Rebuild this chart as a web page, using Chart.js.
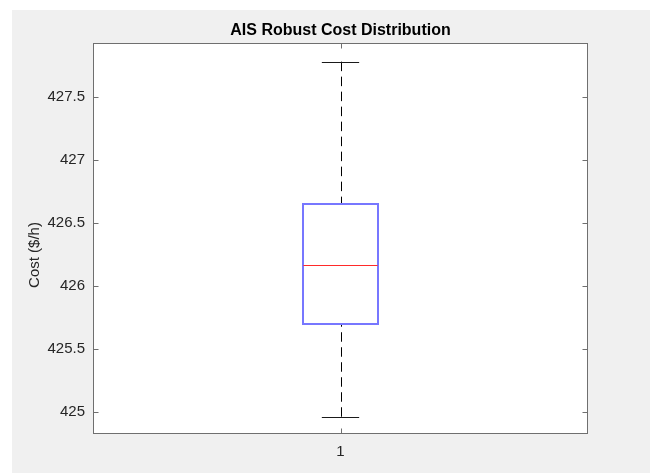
<!DOCTYPE html>
<html>
<head>
<meta charset="utf-8">
<script src="https://cdn.jsdelivr.net/npm/chart.js@4/dist/chart.umd.min.js"></script>
<style>
  html, body { margin: 0; padding: 0; background: #ffffff; }
  #wrap { width: 650px; height: 473px; position: relative; }
</style>
</head>
<body>
<div id="wrap"><canvas id="c" width="650" height="473"></canvas></div>
<script>
// Box plot summary of the AIS robust cost ($/h)
const categories   = ['1'];
const upperWhisker = [427.783];
const q3           = [426.651];
const median       = [426.167];
const q1           = [425.703];
const lowerWhisker = [424.965];
const yTicks       = [425, 425.5, 426, 426.5, 427, 427.5];

const Y_MIN = 424.828, Y_MAX = 427.931;
const BOX_HALF = 0.075;   // half box width in category units
const CAP_HALF = 0.0377;  // half whisker cap width

const FONT = '"Liberation Sans", Arial, Helvetica, sans-serif';
const AXIS_COLOR = '#6f6f6f';
const TEXT_COLOR = '#262626';

const boxPlotPlugin = {
  id: 'boxPlot',
  beforeDraw(chart) {
    const { ctx, chartArea: a } = chart;
    ctx.save();
    ctx.fillStyle = '#ffffff';
    ctx.fillRect(0, 0, chart.width, chart.height);
    ctx.fillStyle = '#f0f0f0';
    ctx.fillRect(12, 10, chart.width - 12, chart.height - 10);
    ctx.fillStyle = '#ffffff';
    ctx.fillRect(a.left, a.top, a.right - a.left, a.bottom - a.top);
    ctx.restore();
  },
  afterDraw(chart) {
    const { ctx, chartArea: a, scales } = chart;
    const xs = scales.x, ys = scales.y;
    ctx.save();

    categories.forEach((c, i) => {
      const cx = Math.round(xs.getPixelForValue(i + 1)) + 0.5;
      const bl = xs.getPixelForValue(i + 1 - BOX_HALF);
      const br = xs.getPixelForValue(i + 1 + BOX_HALF);
      const cl = xs.getPixelForValue(i + 1 - CAP_HALF);
      const cr = xs.getPixelForValue(i + 1 + CAP_HALF);
      const yUW = ys.getPixelForValue(upperWhisker[i]);
      const yQ3 = ys.getPixelForValue(q3[i]);
      const yMed = ys.getPixelForValue(median[i]);
      const yQ1 = ys.getPixelForValue(q1[i]);
      const yLW = ys.getPixelForValue(lowerWhisker[i]);

      // dashed whiskers
      ctx.strokeStyle = '#000000';
      ctx.lineWidth = 1;
      ctx.setLineDash([9.5, 5.5]);
      ctx.beginPath();
      ctx.moveTo(cx, yUW); ctx.lineTo(cx, yQ3);
      ctx.stroke();
      ctx.beginPath();
      ctx.moveTo(cx, yLW); ctx.lineTo(cx, yQ1);
      ctx.stroke();
      ctx.setLineDash([]);

      // caps
      ctx.strokeStyle = '#1a1a1a';
      ctx.beginPath();
      ctx.moveTo(cl, Math.round(yUW) + 0.5); ctx.lineTo(cr, Math.round(yUW) + 0.5);
      ctx.moveTo(cl, Math.round(yLW) + 0.5); ctx.lineTo(cr, Math.round(yLW) + 0.5);
      ctx.stroke();

      // box
      ctx.strokeStyle = '#7777ff';
      ctx.lineWidth = 2;
      ctx.strokeRect(Math.round(bl), Math.round(yQ3), Math.round(br) - Math.round(bl), Math.round(yQ1) - Math.round(yQ3));

      // median
      ctx.strokeStyle = '#ff2a2a';
      ctx.lineWidth = 1;
      ctx.beginPath();
      ctx.moveTo(bl, Math.round(yMed) + 0.5); ctx.lineTo(br, Math.round(yMed) + 0.5);
      ctx.stroke();
    });

    // axes frame with inward ticks on all sides
    ctx.strokeStyle = AXIS_COLOR;
    ctx.lineWidth = 1;
    const L = a.left + 0.5, R = a.right - 0.5, T = a.top + 0.5, B = a.bottom - 0.5;
    ctx.strokeRect(L, T, R - L, B - T);
    ctx.beginPath();
    yTicks.forEach(v => {
      const y = Math.round(ys.getPixelForValue(v)) + 0.5;
      ctx.moveTo(L, y); ctx.lineTo(L + 5, y);
      ctx.moveTo(R, y); ctx.lineTo(R - 5, y);
    });
    categories.forEach((c, i) => {
      const x = Math.round(xs.getPixelForValue(i + 1)) + 0.5;
      ctx.moveTo(x, B); ctx.lineTo(x, B - 5);
      ctx.moveTo(x, T); ctx.lineTo(x, T + 5);
    });
    ctx.stroke();

    // title
    ctx.fillStyle = '#000000';
    ctx.font = 'bold 16px ' + FONT;
    ctx.textAlign = 'center';
    ctx.textBaseline = 'middle';
    ctx.fillText('AIS Robust Cost Distribution', (a.left + a.right) / 2, 31);

    // y-axis label
    ctx.fillStyle = TEXT_COLOR;
    ctx.font = '15px ' + FONT;
    ctx.translate(35, 255);
    ctx.rotate(-Math.PI / 2);
    ctx.fillText('Cost ($/h)', 0, 0);
    ctx.restore();
  }
};

new Chart(document.getElementById('c'), {
  type: 'scatter',
  data: { datasets: [{ data: [] }] },
  options: {
    responsive: false,
    animation: false,
    events: [],
    layout: { padding: { left: 12, top: 43, right: 62, bottom: 0 } },
    plugins: { legend: { display: false }, tooltip: { enabled: false }, title: { display: false } },
    scales: {
      x: {
        type: 'linear', min: 0.5, max: 1.5,
        grid: { display: false, drawTicks: false },
        border: { display: false },
        afterBuildTicks: s => { s.ticks = categories.map((c, i) => ({ value: i + 1 })); },
        afterFit: s => { s.height = 39; },
        ticks: {
          padding: 9, color: TEXT_COLOR, font: { family: FONT, size: 15 },
          maxRotation: 0,
          callback: v => categories[v - 1]
        }
      },
      y: {
        type: 'linear', min: Y_MIN, max: Y_MAX,
        grid: { display: false, drawTicks: false },
        border: { display: false },
        afterBuildTicks: s => { s.ticks = yTicks.map(v => ({ value: v })); },
        afterFit: s => { s.width = 81; },
        ticks: {
          padding: 8, color: TEXT_COLOR, font: { family: FONT, size: 15 },
          callback: v => String(v)
        }
      }
    }
  },
  plugins: [boxPlotPlugin]
});
</script>
</body>
</html>
